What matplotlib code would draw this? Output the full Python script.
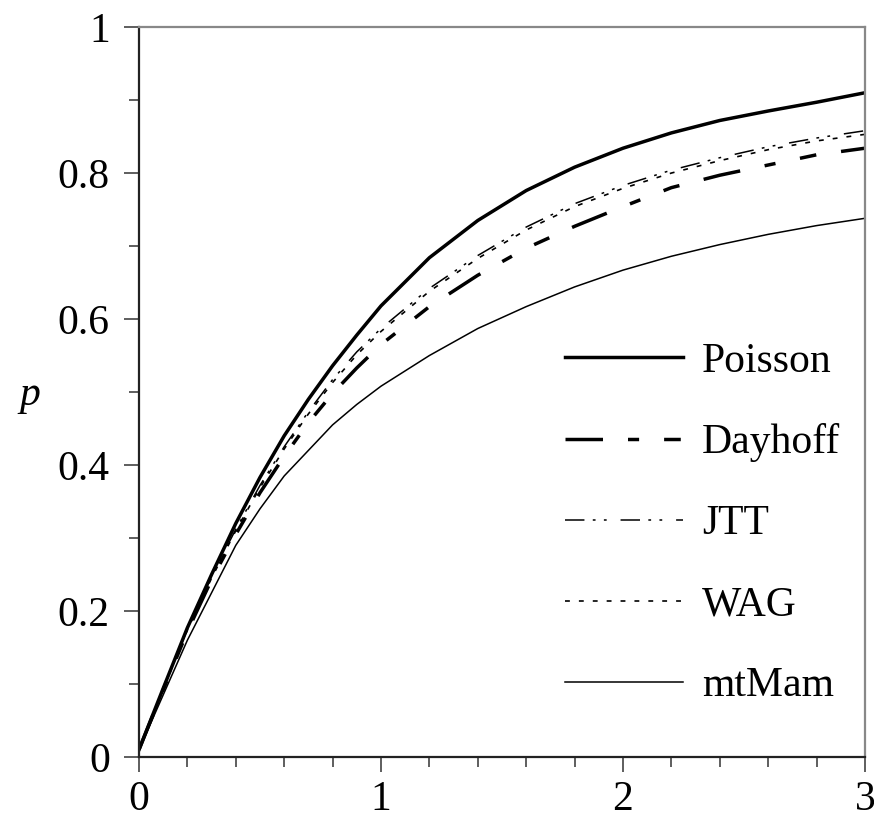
import matplotlib
matplotlib.use("Agg")
from matplotlib import pyplot as plt
from matplotlib.ticker import MultipleLocator

# distance values (x) and proportion of differing sites p for each model
dist = [0, 0.1, 0.2, 0.3, 0.4, 0.5, 0.6, 0.7, 0.8, 0.9, 1.0,
        1.2, 1.4, 1.6, 1.8, 2.0, 2.2, 2.4, 2.6, 2.8, 3.0]
poisson = [0.01, 0.094, 0.177, 0.25, 0.32, 0.383, 0.44, 0.49, 0.536, 0.578, 0.618,
           0.684, 0.735, 0.776, 0.808, 0.834, 0.855, 0.872, 0.885, 0.897, 0.91]
dayhoff = [0.01, 0.092, 0.172, 0.243, 0.305, 0.362, 0.412, 0.458, 0.498, 0.533, 0.565,
           0.617, 0.66, 0.697, 0.727, 0.754, 0.78, 0.797, 0.811, 0.825, 0.834]
jtt = [0.01, 0.093, 0.175, 0.247, 0.312, 0.372, 0.425, 0.473, 0.517, 0.555, 0.587,
       0.642, 0.687, 0.726, 0.758, 0.783, 0.804, 0.821, 0.836, 0.848, 0.858]
wag = [0.01, 0.093, 0.174, 0.245, 0.31, 0.369, 0.422, 0.47, 0.513, 0.551, 0.583,
       0.638, 0.683, 0.722, 0.754, 0.779, 0.8, 0.817, 0.832, 0.844, 0.853]
mtmam = [0.01, 0.085, 0.16, 0.225, 0.29, 0.34, 0.385, 0.42, 0.455, 0.483, 0.508,
         0.55, 0.587, 0.617, 0.644, 0.667, 0.686, 0.702, 0.716, 0.728, 0.738]

plt.rcParams['font.family'] = ['Liberation Serif', 'DejaVu Serif']
plt.rcParams['lines.scale_dashes'] = False

fig = plt.figure(figsize=(8.74, 8.27), dpi=100)
ax = fig.add_axes([0.159, 0.0846, 0.8307, 0.8827])

ax.plot(dist, poisson, color='black', lw=2.5, label='Poisson')
ax.plot(dist, dayhoff, color='black', lw=2.5, dashes=(27, 18, 8, 18, 12, 18), label='Dayhoff')
ax.plot(dist, jtt, color='black', lw=1.1, dashes=(14, 6, 2, 6, 2, 10), label='JTT')
ax.plot(dist, wag, color='black', lw=1.2, dashes=(3.5, 6.5), label='WAG')
ax.plot(dist, mtmam, color='black', lw=1.1, label='mtMam')

ax.set_xlim(0, 3)
ax.set_ylim(0, 1)
ax.xaxis.set_major_locator(MultipleLocator(1))
ax.xaxis.set_minor_locator(MultipleLocator(0.2))
ax.yaxis.set_major_locator(MultipleLocator(0.2))
ax.yaxis.set_minor_locator(MultipleLocator(0.1))
ax.xaxis.set_major_formatter(plt.FuncFormatter(lambda v, p: '%g' % v))
ax.yaxis.set_major_formatter(plt.FuncFormatter(lambda v, p: '%g' % v))

ax.tick_params(which='major', direction='out', length=11, width=1.1, colors='#333333',
               labelsize=30, labelcolor='black', pad=6)
ax.tick_params(which='minor', direction='out', length=7, width=1.1, colors='#333333')
ax.tick_params(axis='y', which='major', pad=10)

for s in ['left', 'bottom']:
    ax.spines[s].set_color('#222222')
    ax.spines[s].set_linewidth(1.6)
for s in ['top', 'right']:
    ax.spines[s].set_color('#888888')
    ax.spines[s].set_linewidth(1.6)

ax.set_ylabel('p', fontsize=30, style='italic', rotation=0)
ax.yaxis.set_label_coords(-0.15, 0.47)

ax.legend(loc='upper left', bbox_to_anchor=(0.587, 0.568), frameon=False,
          fontsize=30, handlelength=2.83, handletextpad=0.46,
          labelspacing=1.02, borderpad=0, borderaxespad=0)

plt.savefig('out.png', dpi=100)
